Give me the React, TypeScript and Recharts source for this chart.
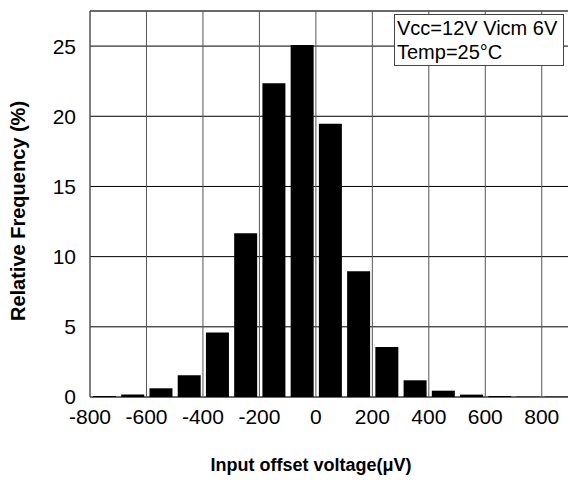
import { ComposedChart, Bar, XAxis, YAxis, CartesianGrid, ReferenceArea, Label } from 'recharts';

// histogram bins (µV), each 100 wide, centred on these values
const binCenters = [-750, -650, -550, -450, -350, -250, -150, -50, 50, 150, 250, 350, 450, 550, 650, 750, 850];
const frequency = [0.07, 0.17, 0.62, 1.55, 4.59, 11.66, 22.36, 25.07, 19.47, 8.95, 3.56, 1.19, 0.45, 0.17, 0.07, 0.03, 0.03];
const xTicks = [-800, -600, -400, -200, 0, 200, 400, 600, 800];
const yTicks = [0, 5, 10, 15, 20, 25];
const noteLines = ['Vcc=12V Vicm 6V', 'Temp=25°C'];

const FONT = '"Liberation Sans", Arial, sans-serif';

const data = binCenters.map((c, i) => ({ bin: c, freq: frequency[i] }));

export default function App() {
  return (
    <div style={{ position: 'absolute', left: 0, top: 0, width: 568, height: 480, overflow: 'hidden', background: '#fff', fontFamily: FONT }}>
      <ComposedChart width={570} height={480} data={data} margin={{ top: 11, right: 0, bottom: 0, left: 0 }}>
        <CartesianGrid xAxisId="num" vertical={false} stroke="#000" strokeWidth={1} />
        <CartesianGrid xAxisId="num" horizontal={false} stroke="#555" strokeWidth={1} />
        <XAxis xAxisId="cat" dataKey="bin" type="category" hide />
        <XAxis
          xAxisId="num"
          dataKey="bin"
          type="number"
          domain={[-800, 900]}
          ticks={xTicks}
          allowDataOverflow
          height={83}
          tickLine={false}
          axisLine={false}
          tick={{ fill: '#000', fontSize: 21, fontFamily: FONT, dy: -26 }}
        >
          <Label
            content={() => (
              <text x={311} y={471} textAnchor="middle" style={{ fill: '#000', fontSize: 18, fontWeight: 'bold', fontFamily: FONT }}>
                Input offset voltage(μV)
              </text>
            )}
          />
        </XAxis>
        <YAxis
          type="number"
          domain={[0, 27.5]}
          ticks={yTicks}
          allowDataOverflow
          width={90}
          tickLine={false}
          axisLine={false}
          tickMargin={8}
          tick={{ fill: '#000', fontSize: 21, fontFamily: FONT }}
        >
          <Label
            content={() => (
              <text
                x={18}
                y={211}
                transform="rotate(-90 18 211)"
                textAnchor="middle"
                dominantBaseline="central"
                style={{ fill: '#000', fontSize: 20, fontWeight: 'bold', fontFamily: FONT }}
              >
                Relative Frequency (%)
              </text>
            )}
          />
        </YAxis>
        <Bar xAxisId="cat" dataKey="freq" fill="#000" barSize={23} isAnimationActive={false} />
        <ReferenceArea xAxisId="num" x1={-800} x2={900} y1={0} y2={27.5} fill="none" stroke="#555" strokeWidth={1} />
      </ComposedChart>
      <div
        style={{
          position: 'absolute',
          left: 394,
          top: 14,
          width: 170,
          height: 52,
          border: '1px solid #444',
          background: '#fff',
          boxSizing: 'border-box',
          padding: '1px 0 0 2px',
          fontSize: 20,
          lineHeight: '24px',
          color: '#000',
        }}
      >
        {noteLines.map((t) => (
          <div key={t}>{t}</div>
        ))}
      </div>
    </div>
  );
}
